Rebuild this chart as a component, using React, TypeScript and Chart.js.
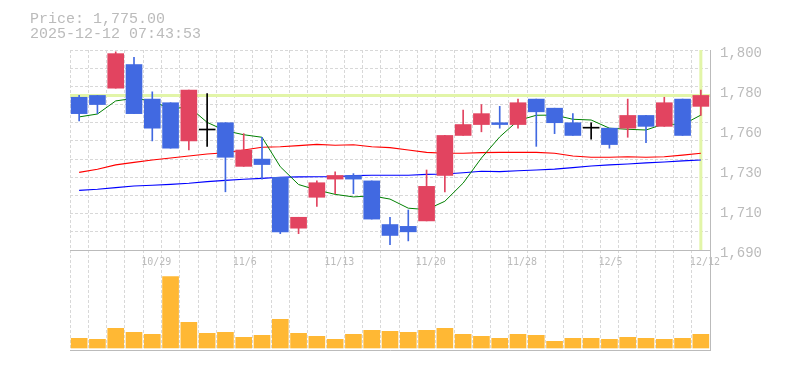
import React, { useEffect, useRef } from 'react';
import { Chart, registerables } from 'chart.js';

Chart.register(...registerables);

// ---------------- data ----------------
const dates = ['10/23','10/24','10/27','10/28','10/29','10/30','10/31','11/4','11/5','11/6','11/7','11/10','11/11','11/12','11/13','11/14','11/17','11/18','11/19','11/20','11/21','11/25','11/26','11/27','11/28','12/1','12/2','12/3','12/4','12/5','12/8','12/9','12/10','12/11','12/12'];
const shownDateLabels = ['10/29','11/6','11/13','11/20','11/28','12/5','12/12'];

const open  = [1774,1775,1779,1792,1773,1771,1750,1756,1760,1736,1740,1730,1702,1719,1729,1731,1728,1704,1703,1706,1731,1753,1759,1760,1759,1773,1768,1760,1757,1757,1757,1764,1758,1773,1769];
const high  = [1775,1775,1799,1796,1777,1771,1778,1776,1760,1754,1752,1730,1708,1728,1733,1732,1728,1708,1712,1734,1753,1767,1770,1769,1773,1773,1768,1765,1760,1757,1773,1764,1774,1773,1778];
const low   = [1761,1765,1779,1765,1750,1746,1745,1747,1722,1736,1729,1699,1699,1714,1721,1721,1707,1693,1695,1706,1722,1753,1755,1757,1757,1747,1754,1753,1751,1746,1752,1749,1758,1753,1764];
const close = [1765,1770,1798,1765,1757,1746,1778,1756,1741,1745,1737,1700,1708,1727,1731,1729,1707,1698,1700,1725,1753,1759,1765,1759,1771,1766,1760,1753,1757,1748,1764,1758,1771,1753,1775];

const volume = [97,87,197,157,137,713,257,147,157,107,127,287,147,117,87,137,177,167,157,177,197,137,117,97,137,127,67,97,97,87,107,97,87,97,137];

const maShort = [1763.2,1764.8,1772.0,1773.4,1772.0,1767.5,1768.8,1760.2,1755.6,1753.4,1752.0,1735.8,1726.0,1723.0,1720.6,1719.2,1719.8,1718.0,1713.0,1712.2,1716.8,1726.8,1740.6,1752.2,1761.2,1764.1,1764.2,1761.9,1761.5,1757.0,1756.4,1756.0,1759.4,1758.9,1764.2];
const maMid   = [1732.7,1734.4,1736.8,1738.2,1739.5,1740.6,1741.7,1742.8,1743.5,1745.0,1746.5,1746.8,1747.4,1748.1,1747.6,1747.9,1746.8,1746.3,1745.0,1743.7,1743.2,1743.2,1743.6,1743.7,1743.7,1743.7,1743.2,1741.7,1741.0,1741.0,1741.3,1741.0,1741.3,1742.2,1743.2];
const maLong  = [1722.8,1723.4,1724.3,1725.2,1725.6,1726.1,1726.7,1727.6,1728.3,1728.9,1729.4,1730.0,1730.2,1730.3,1730.3,1730.9,1731.1,1731.1,1731.1,1731.6,1731.8,1732.5,1733.3,1733.1,1733.6,1734.0,1734.5,1735.3,1736.2,1736.8,1737.3,1737.9,1738.4,1739.0,1739.5];

const priceTickValues = [1690, 1712, 1734, 1756, 1778, 1800];
const priceTickLabels = ['1,690', '1,710', '1,730', '1,760', '1,780', '1,800'];
const priceGridValues = [1690, 1700, 1710, 1720, 1730, 1740, 1750, 1760, 1770, 1780, 1790, 1800];

const lastPrice = 1775;
const priceText = 'Price: 1,775.00';
const timeText = '2025-12-12 07:43:53';

// ---------------- styles ----------------
const UP = 'rgb(226,68,96)';
const DOWN = 'rgb(65,105,225)';
const EVEN = '#000000';
const VOL = 'rgb(255,184,52)';
const GUIDE = 'rgb(226,245,168)';
const GRID = '#d8d8d8';
const AXIS = '#bbbbbb';
const TEXT = '#bbbbbb';

const PRICE_TOP = 1800;
const PRICE_PANEL_BOTTOM = 1690;
const PRICE_AXIS_MIN = 1635;

const candleColors = open.map((o, i) => (close[i] > o ? UP : close[i] < o ? DOWN : EVEN));

const guidePlugin = {
  id: 'guides',
  beforeDatasetsDraw(chart: any) {
    const { ctx, chartArea, scales } = chart;
    const y = scales.y.getPixelForValue(lastPrice);
    const x = scales.x.getPixelForValue(dates.length - 1);
    const yTop = scales.y.getPixelForValue(PRICE_TOP);
    const yBot = scales.y.getPixelForValue(PRICE_PANEL_BOTTOM);
    ctx.save();
    ctx.strokeStyle = GUIDE;
    ctx.lineWidth = 3;
    ctx.beginPath();
    ctx.moveTo(chartArea.left, y);
    ctx.lineTo(chartArea.right, y);
    ctx.moveTo(x, yTop);
    ctx.lineTo(x, yBot);
    ctx.stroke();
    ctx.restore();
  },
};

export default function App() {
  const canvasRef = useRef<HTMLCanvasElement | null>(null);

  useEffect(() => {
    const canvas = canvasRef.current;
    if (!canvas) return;
    const chart = new Chart(canvas, {
      type: 'bar',
      data: {
        labels: dates,
        datasets: [
          {
            type: 'bar',
            label: 'body',
            data: open.map((o, i) => [o, close[i]]) as any,
            backgroundColor: candleColors,
            barThickness: 16,
            minBarLength: 1,
            grouped: false,
            yAxisID: 'y',
            order: 0,
          } as any,
          {
            type: 'bar',
            label: 'wick',
            data: low.map((l, i) => [l, high[i]]) as any,
            backgroundColor: candleColors,
            barThickness: 1,
            grouped: false,
            yAxisID: 'y',
            order: 1,
          } as any,
          {
            type: 'line',
            label: 'MA short',
            data: maShort,
            borderColor: '#008000',
            borderWidth: 1,
            pointRadius: 0,
            tension: 0,
            yAxisID: 'y',
            order: 2,
          } as any,
          {
            type: 'line',
            label: 'MA mid',
            data: maMid,
            borderColor: '#ff0000',
            borderWidth: 1.2,
            pointRadius: 0,
            tension: 0,
            yAxisID: 'y',
            order: 3,
          } as any,
          {
            type: 'line',
            label: 'MA long',
            data: maLong,
            borderColor: '#0000ff',
            borderWidth: 1.2,
            pointRadius: 0,
            tension: 0,
            yAxisID: 'y',
            order: 4,
          } as any,
          {
            type: 'bar',
            label: 'volume',
            data: volume,
            backgroundColor: VOL,
            barThickness: 16,
            grouped: false,
            yAxisID: 'yVol',
            order: 5,
          } as any,
        ],
      },
      options: {
        responsive: false,
        animation: false,
        devicePixelRatio: 1,
        events: [],
        layout: { padding: { left: 70, top: 50, right: 0, bottom: 20 } },
        plugins: {
          legend: { display: false },
          tooltip: { enabled: false },
          title: { display: false },
        },
        scales: {
          x: {
            type: 'category',
            position: { y: PRICE_PANEL_BOTTOM } as any,
            offset: true,
            grid: { display: true, color: GRID, offset: true, drawTicks: false, lineWidth: 1 },
            border: { display: true, color: AXIS, width: 1, dash: [3, 2] },
            ticks: {
              autoSkip: false,
              maxRotation: 0,
              minRotation: 0,
              align: 'start',
              labelOffset: -11,
              padding: 6,
              color: TEXT,
              font: { family: '"DejaVu Sans Mono", monospace', size: 10 },
              callback: (_v: any, i: number) => (shownDateLabels.includes(dates[i]) ? dates[i] : ''),
            },
          } as any,
          xb: {
            type: 'category',
            position: 'bottom',
            offset: true,
            grid: { display: false, drawTicks: false },
            border: { display: true, color: AXIS, width: 1 },
            ticks: { display: false },
            afterFit: (s: any) => { s.height = 0; },
          } as any,
          yGrid: {
            type: 'linear',
            position: 'left',
            min: PRICE_AXIS_MIN,
            max: PRICE_TOP,
            grid: { display: true, color: GRID, drawTicks: false, lineWidth: 1 },
            border: { display: false, dash: [3, 2] },
            ticks: { display: false },
            afterBuildTicks: (s: any) => { s.ticks = priceGridValues.map((v) => ({ value: v })); },
            afterFit: (s: any) => { s.width = 0; },
          } as any,
          y: {
            type: 'linear',
            position: 'right',
            min: PRICE_AXIS_MIN,
            max: PRICE_TOP,
            grid: { display: false, drawTicks: false },
            border: { display: true, color: AXIS, width: 1 },
            ticks: {
              autoSkip: false,
              padding: 10,
              labelOffset: 3,
              color: TEXT,
              font: { family: '"Liberation Mono", monospace', size: 14 },
              callback: (_v: any, i: number) => priceTickLabels[i],
            },
            afterBuildTicks: (s: any) => { s.ticks = priceTickValues.map((v) => ({ value: v })); },
            afterFit: (s: any) => { s.width = 75; },
          } as any,
          yVol: {
            type: 'linear',
            display: false,
            min: -20,
            max: 2980,
          } as any,
        },
      },
      plugins: [guidePlugin],
    });
    return () => chart.destroy();
  }, []);

  const textStyle: React.CSSProperties = {
    position: 'absolute',
    left: 30,
    margin: 0,
    fontFamily: '"Liberation Mono", monospace',
    fontSize: 15,
    lineHeight: '15px',
    color: TEXT,
    whiteSpace: 'pre',
  };

  return (
    <div style={{ position: 'absolute', left: 0, top: 0, width: 785, height: 370, background: '#fff' }}>
      <canvas ref={canvasRef} width={785} height={370} style={{ position: 'absolute', left: 0, top: 0, width: 785, height: 370 }} />
      <div style={{ ...textStyle, top: 11.5 }}>{priceText}</div>
      <div style={{ ...textStyle, top: 26.5 }}>{timeText}</div>
    </div>
  );
}
